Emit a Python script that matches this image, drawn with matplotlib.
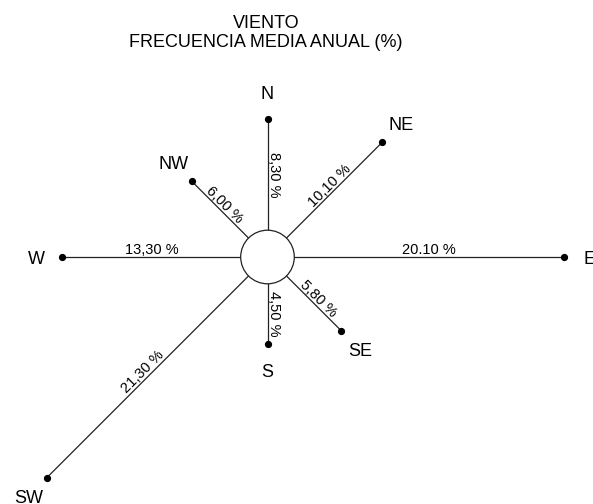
import matplotlib
matplotlib.use('Agg')
import matplotlib.pyplot as plt
from matplotlib.patches import Circle
import numpy as np

plt.rcParams['font.family'] = ['Liberation Sans', 'DejaVu Sans']

# datos del viento
directions = ['N', 'NE', 'E', 'SE', 'S', 'SW', 'W', 'NW']
freqs = [8.30, 10.10, 20.10, 5.80, 4.50, 21.30, 13.30, 6.00]
freq_labels = ['8,30 %', '10,10 %', '20.10 %', '5,80 %', '4,50 %', '21,30 %', '13,30 %', '6,00 %']
angles = [90, 45, 0, -45, -90, -135, 180, 135]

title1 = 'VIENTO'
title2 = 'FRECUENCIA MEDIA ANUAL (%)'

r0 = 2.0       # radio del circulo central
scale = 13.4   # px por unidad

fig = plt.figure(figsize=(5.93, 5.04), dpi=100)
ax = fig.add_axes([0, 0, 1, 1])
cx, cy = 267.5, 257
ax.set_xlim(-cx / scale, (593 - cx) / scale)
ax.set_ylim(-(504 - cy) / scale, cy / scale)
ax.axis('off')

for d, v, lab, a in zip(directions, freqs, freq_labels, angles):
    t = np.radians(a)
    ux, uy = np.cos(t), np.sin(t)
    ax.plot([r0 * ux, (r0 + v) * ux], [r0 * uy, (r0 + v) * uy],
            color='#222222', lw=0.9, zorder=1)
    ax.plot((r0 + v) * ux, (r0 + v) * uy, 'o', color='black', ms=4.2, zorder=3)
    ax.text((r0 + v + 1.95) * ux, (r0 + v + 1.95) * uy, d, fontsize=13,
            ha='center', va='center_baseline')

    rot = a
    if rot >= 90:
        rot -= 180
    if rot < -90:
        rot += 180
    rr = np.radians(rot)
    off = 1.8
    m = r0 + v / 2
    ax.annotate(lab, xy=(m * ux, m * uy),
                xytext=(-np.sin(rr) * off, np.cos(rr) * off),
                textcoords='offset points', rotation=rot,
                rotation_mode='anchor', ha='center', va='baseline',
                fontsize=10.5)

ax.add_patch(Circle((0, 0), r0, facecolor='white', edgecolor='#222222',
                    lw=0.9, zorder=2))

ax.text(-0.1, (cy - 28) / scale, title1, fontsize=13, ha='center', va='baseline')
ax.text(-0.1, (cy - 47) / scale, title2, fontsize=13, ha='center', va='baseline')

fig.savefig('out.png', dpi=100)
